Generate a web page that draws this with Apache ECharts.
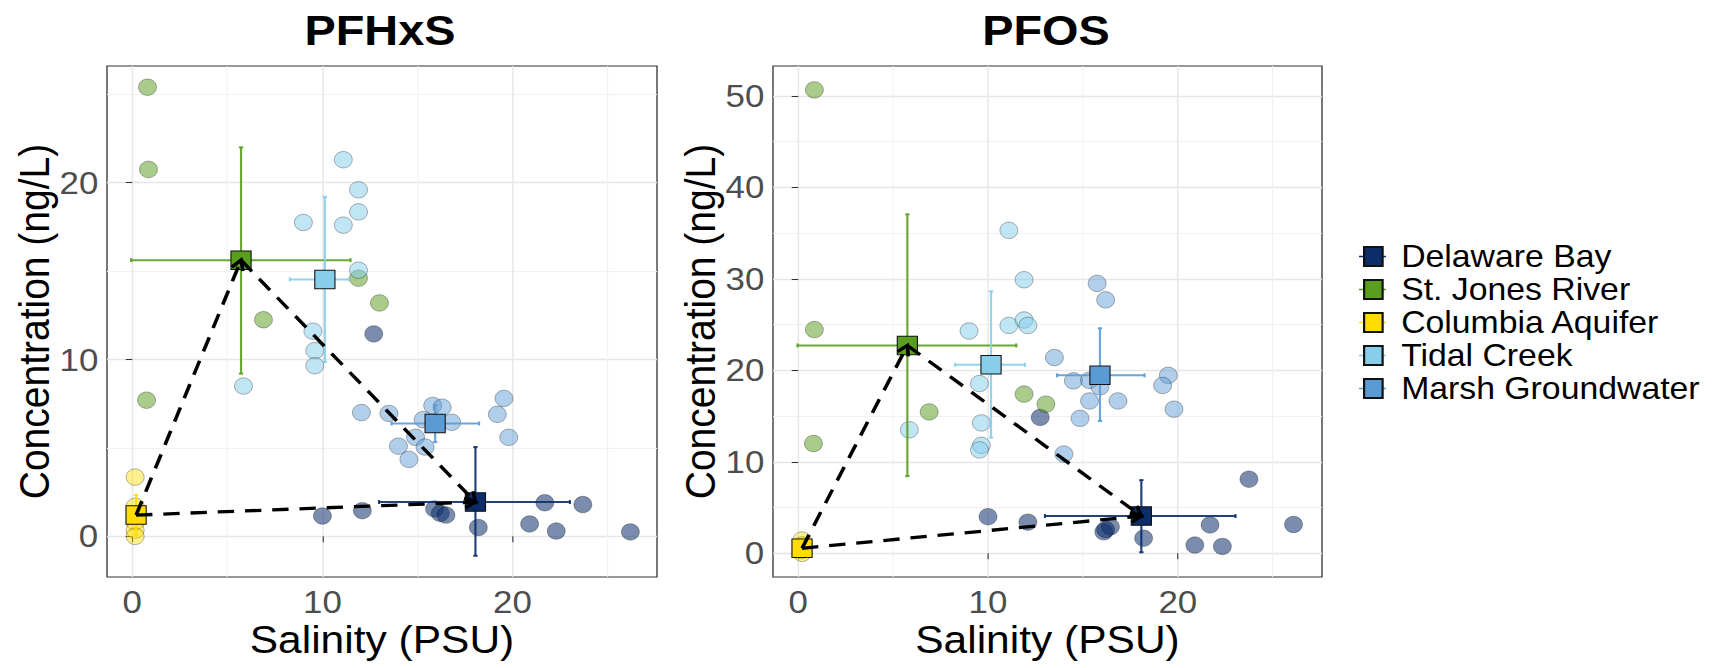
<!DOCTYPE html>
<html><head><meta charset="utf-8">
<script src="https://cdn.jsdelivr.net/npm/echarts@6/dist/echarts.min.js"></script>
<style>html,body{margin:0;padding:0;background:#fff;overflow:hidden}#c{height:668px;transform-origin:0 0}</style>
</head><body><div id="c"></div>
<script>
// ---------- DATA ----------
const groups = ['Delaware Bay', 'St. Jones River', 'Columbia Aquifer', 'Tidal Creek', 'Marsh Groundwater'];
const groupColors = ['#0B2E6B', '#5A9E20', '#FFDD00', '#87CEEB', '#5B9BD5'];
const pointAlpha = [0.68, 0.65, 0.55, 0.65, 0.6];

const xTicks = [0, 10, 20];
const xMinor = [5, 15, 25];
const yTicksPFHxS = [0, 10, 20];
const yMinorPFHxS = [5, 15, 25];
const yTicksPFOS = [0, 10, 20, 30, 40, 50];
const yMinorPFOS = [5, 15, 25, 35, 45];

// PFHxS samples [salinity, concentration]
const pfhxsDelaware = [[10.0,1.15],[12.1,1.45],[15.9,1.55],[16.2,1.3],[16.5,1.2],[18.2,0.5],[20.9,0.7],[21.7,1.9],[22.3,0.3],[23.7,1.8],[26.2,0.25],[12.7,11.45]];
const pfhxsStJones = [[0.8,25.4],[0.85,20.75],[0.75,7.7],[6.9,12.25],[11.9,14.6],[13.0,13.2]];
const pfhxsColumbia = [[0.15,3.35],[0.15,1.7],[0.15,0.8],[0.15,0.35],[0.15,0.0]];
const pfhxsTidal = [[11.1,21.3],[11.9,19.6],[11.9,18.35],[9.0,17.75],[11.1,17.6],[11.9,15.05],[9.5,11.6],[9.6,10.5],[9.6,9.65],[5.85,8.5]];
const pfhxsMarsh = [[12.05,7.0],[13.5,6.95],[15.8,7.4],[16.3,7.3],[15.3,6.6],[16.8,6.45],[19.55,7.8],[19.2,6.9],[19.8,5.6],[14.9,5.6],[14.0,5.1],[15.4,5.05],[14.55,4.35]];
// PFHxS group means [x, y, xlo, xhi, ylo, yhi] in group order
const pfhxsMeans = [
  [18.05, 1.94, 12.98, 23.02, -1.1, 5.05],
  [5.72, 15.62, -0.06, 11.48, 9.2, 22.0],
  [0.2, 1.2, 0.0, 0.4, 0.05, 2.35],
  [10.13, 14.53, 8.29, 11.39, 9.86, 19.2],
  [15.93, 6.38, 13.64, 18.24, 5.33, 7.43]
];

// PFOS samples
const pfosDelaware = [[12.75,14.85],[10.0,4.0],[12.1,3.4],[16.1,2.35],[16.45,2.9],[16.2,2.6],[18.2,1.65],[20.9,0.9],[21.7,3.1],[22.35,0.75],[23.75,8.1],[26.1,3.15]];
const pfosStJones = [[0.85,50.65],[0.85,24.45],[0.8,12.0],[6.9,15.45],[11.9,17.4],[13.05,16.3]];
const pfosColumbia = [[0.2,1.45],[0.2,0.9],[0.2,0.3],[0.2,0.0]];
const pfosTidal = [[11.1,35.3],[11.9,29.9],[9.0,24.3],[11.1,24.9],[11.9,25.5],[12.1,24.9],[9.55,18.55],[9.65,14.25],[9.65,11.8],[9.55,11.3],[5.85,13.5]];
const pfosMarsh = [[15.75,29.5],[16.2,27.7],[13.5,21.4],[19.5,19.45],[19.2,18.35],[14.5,18.85],[15.35,18.9],[15.9,18.2],[15.35,16.65],[16.85,16.65],[14.85,14.75],[19.8,15.75],[14.0,10.85]];
const pfosMeans = [
  [18.08, 4.07, 13.0, 23.04, 0.11, 8.0],
  [5.75, 22.72, -0.04, 11.49, 8.44, 37.05],
  [0.2, 0.55, 0.0, 0.4, 0.1, 1.0],
  [10.16, 20.6, 8.26, 11.95, 12.65, 28.64],
  [15.9, 19.45, 13.64, 18.25, 14.47, 24.6]
];

// arrows between group means: [from group index, to group index]
const arrowPairs = [[2, 1], [1, 0], [2, 0]];

// ---------- CHART ----------
// the reference figure is horizontally stretched; draw at a narrower width and stretch the whole chart
const SX = 1.09;
const W = 1723 / SX, H = 668;
const X = v => v / SX;   // convert target page x to chart x
const FONT = "'Liberation Sans', Arial, Helvetica, sans-serif";

function rgba(hex, a) {
  const n = parseInt(hex.slice(1), 16);
  return 'rgba(' + (n >> 16 & 255) + ',' + (n >> 8 & 255) + ',' + (n & 255) + ',' + a + ')';
}

function errorBarRender(params, api) {
  const x = api.value(0), y = api.value(1);
  const pL = api.coord([api.value(2), y]), pR = api.coord([api.value(3), y]);
  const pB = api.coord([x, api.value(4)]), pT = api.coord([x, api.value(5)]);
  const style = { stroke: api.visual('color'), lineWidth: 2, opacity: 0.9 };
  const c = 2;
  return { type: 'group', children: [
    { type: 'line', shape: { x1: pL[0], y1: pL[1], x2: pR[0], y2: pR[1] }, style },
    { type: 'line', shape: { x1: pB[0], y1: pB[1], x2: pT[0], y2: pT[1] }, style },
    { type: 'line', shape: { x1: pL[0], y1: pL[1] - c, x2: pL[0], y2: pL[1] + c }, style },
    { type: 'line', shape: { x1: pR[0], y1: pR[1] - c, x2: pR[0], y2: pR[1] + c }, style },
    { type: 'line', shape: { x1: pB[0] - c, y1: pB[1], x2: pB[0] + c, y2: pB[1] }, style },
    { type: 'line', shape: { x1: pT[0] - c, y1: pT[1], x2: pT[0] + c, y2: pT[1] }, style }
  ]};
}

function arrowRender(params, api) {
  const p1 = api.coord([api.value(0), api.value(1)]);
  const p2 = api.coord([api.value(2), api.value(3)]);
  const ang = Math.atan2(p2[1] - p1[1], p2[0] - p1[0]);
  const L = 11, a = Math.PI / 6;
  const h1 = [p2[0] - L * Math.cos(ang - a), p2[1] - L * Math.sin(ang - a)];
  const h2 = [p2[0] - L * Math.cos(ang + a), p2[1] - L * Math.sin(ang + a)];
  return { type: 'group', children: [
    { type: 'line', shape: { x1: p1[0], y1: p1[1], x2: p2[0], y2: p2[1] },
      style: { stroke: '#000', lineWidth: 3.3, lineDash: [15, 10], lineCap: 'butt' } },
    { type: 'polyline', shape: { points: [h1, p2, h2] },
      style: { stroke: '#000', lineWidth: 3.3, fill: null } }
  ]};
}

function panelSeries(points, means, xi, yi) {
  const s = [];
  points.forEach((pts, g) => {
    s.push({ type: 'scatter', name: groups[g] + ' samples', xAxisIndex: xi, yAxisIndex: yi, z: 2,
      symbol: 'circle', symbolSize: 16.5, data: pts,
      itemStyle: { color: rgba(groupColors[g], pointAlpha[g]), borderColor: 'rgba(0,0,0,0.45)', borderWidth: 0.8 } });
  });
  means.forEach((m, g) => {
    s.push({ type: 'custom', name: groups[g] + ' error', xAxisIndex: xi, yAxisIndex: yi, z: 3,
      renderItem: errorBarRender, data: [m], encode: { x: [0, 2, 3], y: [1, 4, 5] },
      itemStyle: { color: groupColors[g] }, silent: true });
  });
  means.forEach((m, g) => {
    s.push({ type: 'scatter', name: groups[g], xAxisIndex: xi, yAxisIndex: yi, z: 4,
      symbol: 'rect', symbolSize: 18.5, data: [[m[0], m[1]]],
      itemStyle: { color: groupColors[g], borderColor: '#111', borderWidth: 1, opacity: 1 } });
  });
  s.push({ type: 'custom', name: 'arrows', xAxisIndex: xi, yAxisIndex: yi, z: 5, silent: true,
    renderItem: arrowRender, encode: { x: [0, 2], y: [1, 3] },
    data: arrowPairs.map(([a, b]) => [means[a][0], means[a][1], means[b][0], means[b][1]]) });
  return s;
}

const tickLabel = { fontSize: 32, color: '#4D4D4D', fontFamily: FONT };
const nameStyle = { fontSize: 39, color: '#000', fontFamily: FONT };
const majorLine = { show: true, lineStyle: { color: '#E6E6E6', width: 1.3 } };
const minorLine = { show: true, lineStyle: { color: '#F1F1F1', width: 1 } };

function mainX(grid, min, max) {
  return { type: 'value', gridIndex: grid, min, max, position: 'bottom',
    name: 'Salinity (PSU)', nameLocation: 'middle', nameGap: 43, nameTextStyle: nameStyle, nameMoveOverlap: false,
    axisLine: { show: false },
    axisTick: { show: true, length: 6, customValues: xTicks, lineStyle: { color: '#333', width: 1 } },
    axisLabel: { show: true, margin: 9, customValues: xTicks, ...tickLabel },
    splitLine: majorLine };
}
function minorX(grid, min, max) {
  return { type: 'value', gridIndex: grid, min, max, position: 'bottom',
    axisLine: { show: false }, axisTick: { show: false, customValues: xMinor },
    axisLabel: { show: false }, splitLine: minorLine };
}
function mainY(grid, min, max, ticks) {
  return { type: 'value', gridIndex: grid, min, max, position: 'left',
    name: 'Concentration (ng/L)', nameLocation: 'middle', nameGap: 47, nameRotate: 90, nameTextStyle: nameStyle, nameMoveOverlap: false,
    axisLine: { show: false },
    axisTick: { show: true, length: 6, customValues: ticks, lineStyle: { color: '#333', width: 1 } },
    axisLabel: { show: true, margin: 8, customValues: ticks, ...tickLabel },
    splitLine: majorLine };
}
function minorY(grid, min, max, ticks) {
  return { type: 'value', gridIndex: grid, min, max, position: 'left',
    axisLine: { show: false }, axisTick: { show: false, customValues: ticks },
    axisLabel: { show: false }, splitLine: minorLine };
}

const option = {
  animation: false,
  backgroundColor: '#fff',
  title: [
    { text: 'PFHxS', left: X(380), top: 9, textAlign: 'center', padding: 0,
      textStyle: { fontSize: 43, fontWeight: 'bold', color: '#000', fontFamily: FONT } },
    { text: 'PFOS', left: X(1046), top: 9, textAlign: 'center', padding: 0,
      textStyle: { fontSize: 43, fontWeight: 'bold', color: '#000', fontFamily: FONT } }
  ],
  grid: [
    { left: X(107), top: 66, width: X(550), height: 511, show: true, borderColor: '#333', borderWidth: 1.2, backgroundColor: 'transparent' },
    { left: X(773), top: 66, width: X(549), height: 511, show: true, borderColor: '#333', borderWidth: 1.2, backgroundColor: 'transparent' }
  ],
  xAxis: [
    mainX(0, -1.33, 27.6), minorX(0, -1.33, 27.6),
    mainX(1, -1.33, 27.6), minorX(1, -1.33, 27.6)
  ],
  yAxis: [
    mainY(0, -2.3, 26.6, yTicksPFHxS), minorY(0, -2.3, 26.6, yMinorPFHxS),
    mainY(1, -2.59, 53.26, yTicksPFOS), minorY(1, -2.59, 53.26, yMinorPFOS)
  ],
  legend: {
    data: groups.map(g => ({ name: g, icon: 'rect' })),
    orient: 'vertical', left: X(1363), top: 240, z: 10,
    itemWidth: 17, itemHeight: 19, itemGap: 0, selectedMode: false, padding: 0,
    textStyle: { fontSize: 31, lineHeight: 33, color: '#000', fontFamily: FONT, padding: [0, 0, 0, 12] }
  },
  graphic: groups.map((g, i) => ({
    type: 'line', z: 1,
    shape: { x1: X(1359), y1: 256.5 + 33 * i, x2: X(1386), y2: 256.5 + 33 * i },
    style: { stroke: groupColors[i], lineWidth: 1.5 }
  })),
  series: [
    ...panelSeries([pfhxsDelaware, pfhxsStJones, pfhxsColumbia, pfhxsTidal, pfhxsMarsh], pfhxsMeans, 0, 0),
    ...panelSeries([pfosDelaware, pfosStJones, pfosColumbia, pfosTidal, pfosMarsh], pfosMeans, 2, 2)
  ]
};

const el = document.getElementById('c');
el.style.width = W + 'px';
el.style.transform = 'scaleX(' + SX + ')';
const chart = echarts.init(el, null, { renderer: 'svg', width: W, height: H });
chart.setOption(option);
</script>
</body></html>
